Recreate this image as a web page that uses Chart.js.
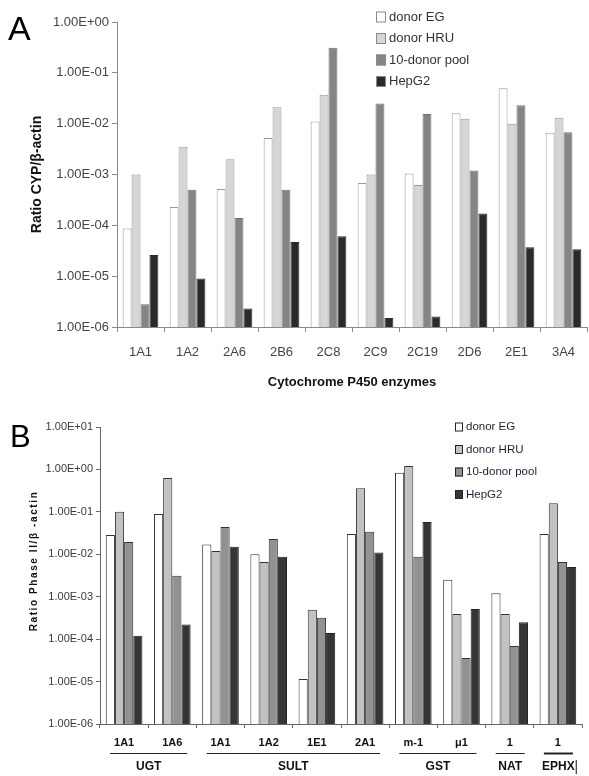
<!DOCTYPE html>
<html>
<head>
<meta charset="utf-8">
<script src="https://cdn.jsdelivr.net/npm/chart.js@4/dist/chart.umd.min.js"></script>
<style>
    body { margin: 0; background: #fff; }
    #wrapA { position: absolute; left: 0; top: 0; width: 589px; height: 395px; }
    #wrapB { position: absolute; left: 0; top: 395px; width: 589px; height: 381px; }
</style>
</head>
<body>
<div id="wrapA"><canvas id="chartA"></canvas></div>
<div id="wrapB"><canvas id="chartB"></canvas></div>
<script>
// Panel A: CYP enzymes
const cypEnzymes = ['1A1', '1A2', '2A6', '2B6', '2C8', '2C9', '2C19', '2D6', '2E1', '3A4'];
const cypDonorEG = [8.7e-5, 2.3e-4, 5.2e-4, 5.2e-3, 1.1e-2, 6.8e-4, 1.05e-3, 1.6e-2, 5.0e-2, 6.6e-3];
const cypDonorHRU = [1.0e-3, 3.5e-3, 2.0e-3, 2.1e-2, 3.7e-2, 1.0e-3, 6.2e-4, 1.25e-2, 1.0e-2, 1.3e-2];
const cypPool = [2.8e-6, 5.0e-4, 1.4e-4, 5.0e-4, 3.1e-1, 2.5e-2, 1.55e-2, 1.2e-3, 2.3e-2, 6.8e-3];
const cypHepG2 = [2.6e-5, 9.0e-6, 2.3e-6, 4.7e-5, 6.1e-5, 1.5e-6, 1.6e-6, 1.7e-4, 3.7e-5, 3.4e-5];
const cypTicks = [1e-6, 1e-5, 1e-4, 1e-3, 1e-2, 1e-1, 1];

// Panel B: phase II enzymes
const p2Labels = ['1A1', '1A6', '1A1', '1A2', '1E1', '2A1', 'm-1', 'μ1', '1', '1'];
const p2GroupNames = ['UGT', 'SULT', 'GST', 'NAT', 'EPHX'];
const p2GroupOf = [0, 0, 1, 1, 1, 1, 2, 2, 3, 4];
const p2DonorEG = [2.85e-2, 8.9e-2, 1.7e-2, 1.0e-2, 1.15e-5, 3.0e-2, 8.3e-1, 2.5e-3, 1.2e-3, 3.0e-2];
const p2DonorHRU = [1.0e-1, 6.3e-1, 1.2e-2, 6.6e-3, 4.9e-4, 3.6e-1, 1.2, 3.9e-4, 3.9e-4, 1.6e-1];
const p2Pool = [1.95e-2, 3.1e-3, 4.4e-2, 2.3e-2, 3.2e-4, 3.4e-2, 8.7e-3, 3.6e-5, 6.9e-5, 6.6e-3];
const p2HepG2 = [1.2e-4, 2.2e-4, 1.5e-2, 8.7e-3, 1.4e-4, 1.1e-2, 5.8e-2, 5.1e-4, 2.5e-4, 5.0e-3];
const p2Ticks = [1e-6, 1e-5, 1e-4, 1e-3, 1e-2, 1e-1, 1, 10];

const seriesNames = ['donor EG', 'donor HRU', '10-donor pool', 'HepG2'];

// 1.00E-03 style
function sci(v) {
    const e = Math.round(Math.log10(v));
    return '1.00E' + (e < 0 ? '-' : '+') + String(Math.abs(e)).padStart(2, '0');
}

// legend + panel letter + extra text
const decorPlugin = {
    id: 'decor',
    afterDraw(chart, args, opts) {
        const ctx = chart.ctx;
        ctx.save();
        // panel letter
        ctx.fillStyle = '#000';
        ctx.font = opts.letterFont;
        ctx.textBaseline = 'alphabetic';
        ctx.textAlign = 'left';
        ctx.fillText(opts.letter, opts.letterX, opts.letterY);

        // legend
        ctx.font = opts.legendFont;
        ctx.textBaseline = 'middle';
        chart.data.datasets.forEach((ds, i) => {
            const y = opts.legendY + i * opts.legendGap;
            ctx.fillStyle = ds.backgroundColor;
            ctx.fillRect(opts.legendX, y - opts.boxH / 2, opts.boxW, opts.boxH);
            ctx.strokeStyle = opts.boxBorder;
            ctx.lineWidth = 1;
            ctx.strokeRect(opts.legendX + 0.5, y - opts.boxH / 2 + 0.5, opts.boxW - 1, opts.boxH - 1);
            ctx.fillStyle = opts.legendColor;
            ctx.fillText(ds.label, opts.legendX + opts.boxW + 3, y);
        });

        if (opts.drawGroups) {
            const x = chart.scales.x;
            const area = chart.chartArea;
            // y title with letter spacing
            ctx.save();
            ctx.translate(34, 166);
            ctx.rotate(-Math.PI / 2);
            ctx.font = 'bold 10px "Liberation Sans", Arial, sans-serif';
            ctx.letterSpacing = '1.6px';
            ctx.fillStyle = '#111';
            ctx.textAlign = 'center';
            ctx.textBaseline = 'middle';
            ctx.fillText('Ratio Phase II/β -actin', 0, 0);
            ctx.restore();

            p2GroupNames.forEach((name, g) => {
                const idx = p2GroupOf.map((v, i) => v === g ? i : -1).filter(i => i >= 0);
                const x0 = x.getPixelForValue(idx[0]) - 14;
                const x1 = x.getPixelForValue(idx[idx.length - 1]) + 15;
                ctx.strokeStyle = '#222';
                ctx.lineWidth = g === 4 ? 2 : 1;
                ctx.beginPath();
                ctx.moveTo(x0, area.bottom + 29.5);
                ctx.lineTo(x1, area.bottom + 29.5);
                ctx.stroke();
                ctx.fillStyle = '#111';
                ctx.font = 'bold 12px "Liberation Sans", Arial, sans-serif';
                ctx.textAlign = 'center';
                ctx.textBaseline = 'middle';
                ctx.fillText(name, (x0 + x1) / 2, area.bottom + 43);
                if (g === 4) {
                    // cursor mark after EPHX
                    const w = ctx.measureText(name).width;
                    ctx.fillRect((x0 + x1) / 2 + w / 2 + 1, area.bottom + 36, 1, 14);
                }
            });
        }
        ctx.restore();
    }
};

function makeDatasets(values, colors, borders) {
    return values.map((vals, i) => ({
        label: seriesNames[i],
        data: vals,
        backgroundColor: colors[i],
        borderColor: borders[i],
        borderWidth: 1,
        barPercentage: 1.0,
        categoryPercentage: 0.76
    }));
}

// ---------- Panel A ----------
new Chart(document.getElementById('chartA'), {
    type: 'bar',
    data: {
        labels: cypEnzymes,
        datasets: makeDatasets(
            [cypDonorEG, cypDonorHRU, cypPool, cypHepG2],
            ['#ffffff', '#d6d6d6', '#858585', '#2a2a2a'],
            ['#9a9a9a', '#9a9a9a', '#707070', '#2a2a2a']
        )
    },
    options: {
        responsive: true,
        maintainAspectRatio: false,
        animation: false,
        layout: { padding: { top: 22, right: 2, left: 0, bottom: 0 } },
        plugins: {
            legend: { display: false },
            tooltip: { enabled: false },
            decor: {
                letter: 'A', letterX: 8, letterY: 40,
                letterFont: '34px "Liberation Sans", Arial, sans-serif',
                legendX: 376, legendY: 17, legendGap: 21.5, boxW: 10, boxH: 11,
                boxBorder: '#8a8a8a', legendColor: '#333',
                legendFont: '13px "Liberation Sans", Arial, sans-serif',
                drawGroups: false
            }
        },
        scales: {
            y: {
                type: 'logarithmic',
                min: 1e-6,
                max: 1,
                afterFit: (scale) => { scale.width = 117; },
                afterBuildTicks: (scale) => { scale.ticks = cypTicks.map(v => ({ value: v })); },
                ticks: {
                    callback: (v) => sci(v),
                    color: '#444',
                    font: { family: '"Liberation Sans", Arial, sans-serif', size: 13 },
                    padding: 3
                },
                grid: { display: true, drawOnChartArea: false, tickLength: 5, color: '#8a8a8a' },
                border: { display: true, color: '#8a8a8a' },
                title: {
                    display: true,
                    text: 'Ratio CYP/β-actin',
                    color: '#111',
                    font: { family: '"Liberation Sans", Arial, sans-serif', size: 14, weight: 'bold' },
                    padding: { top: 29, bottom: 0 }
                }
            },
            x: {
                afterFit: (scale) => { scale.height = 68; },
                ticks: {
                    color: '#444',
                    font: { family: '"Liberation Sans", Arial, sans-serif', size: 13 },
                    padding: 13,
                    maxRotation: 0,
                    autoSkip: false
                },
                grid: { display: true, drawOnChartArea: false, offset: true, tickLength: 5, color: '#8a8a8a' },
                border: { display: true, color: '#8a8a8a' },
                title: {
                    display: true,
                    text: 'Cytochrome P450 enzymes',
                    color: '#111',
                    font: { family: '"Liberation Sans", Arial, sans-serif', size: 13, weight: 'bold' },
                    padding: { top: 0, bottom: 5 }
                }
            }
        }
    },
    plugins: [decorPlugin]
});

// ---------- Panel B ----------
new Chart(document.getElementById('chartB'), {
    type: 'bar',
    data: {
        labels: p2Labels,
        datasets: makeDatasets(
            [p2DonorEG, p2DonorHRU, p2Pool, p2HepG2],
            ['#ffffff', '#c2c2c2', '#929292', '#353535'],
            ['#333333', '#333333', '#333333', '#222222']
        )
    },
    options: {
        responsive: true,
        maintainAspectRatio: false,
        animation: false,
        layout: { padding: { top: 32, right: 7, left: 0, bottom: 0 } },
        plugins: {
            legend: { display: false },
            tooltip: { enabled: false },
            decor: {
                letter: 'B', letterX: 10, letterY: 52,
                letterFont: '31px "Liberation Sans", Arial, sans-serif',
                legendX: 455, legendY: 32, legendGap: 22.5, boxW: 8, boxH: 9,
                boxBorder: '#222', legendColor: '#1e1e3c',
                legendFont: '11.5px "Liberation Sans Narrow", "Liberation Sans", Arial, sans-serif',
                drawGroups: true
            }
        },
        scales: {
            y: {
                type: 'logarithmic',
                min: 1e-6,
                max: 10,
                afterFit: (scale) => { scale.width = 100; },
                afterBuildTicks: (scale) => { scale.ticks = p2Ticks.map(v => ({ value: v })); },
                ticks: {
                    callback: (v) => sci(v),
                    color: '#3a3a3a',
                    font: { family: '"Liberation Sans", Arial, sans-serif', size: 11 },
                    padding: 3
                },
                grid: { display: true, drawOnChartArea: false, tickLength: 4, color: '#666' },
                border: { display: true, color: '#666' }
            },
            x: {
                afterFit: (scale) => { scale.height = 52; },
                ticks: {
                    color: '#111',
                    font: { family: '"Liberation Sans", Arial, sans-serif', size: 11, weight: 'bold' },
                    padding: 8,
                    maxRotation: 0,
                    autoSkip: false
                },
                grid: { display: true, drawOnChartArea: false, offset: true, tickLength: 4, color: '#666' },
                border: { display: true, color: '#666' }
            }
        }
    },
    plugins: [decorPlugin]
});
</script>
</body>
</html>
